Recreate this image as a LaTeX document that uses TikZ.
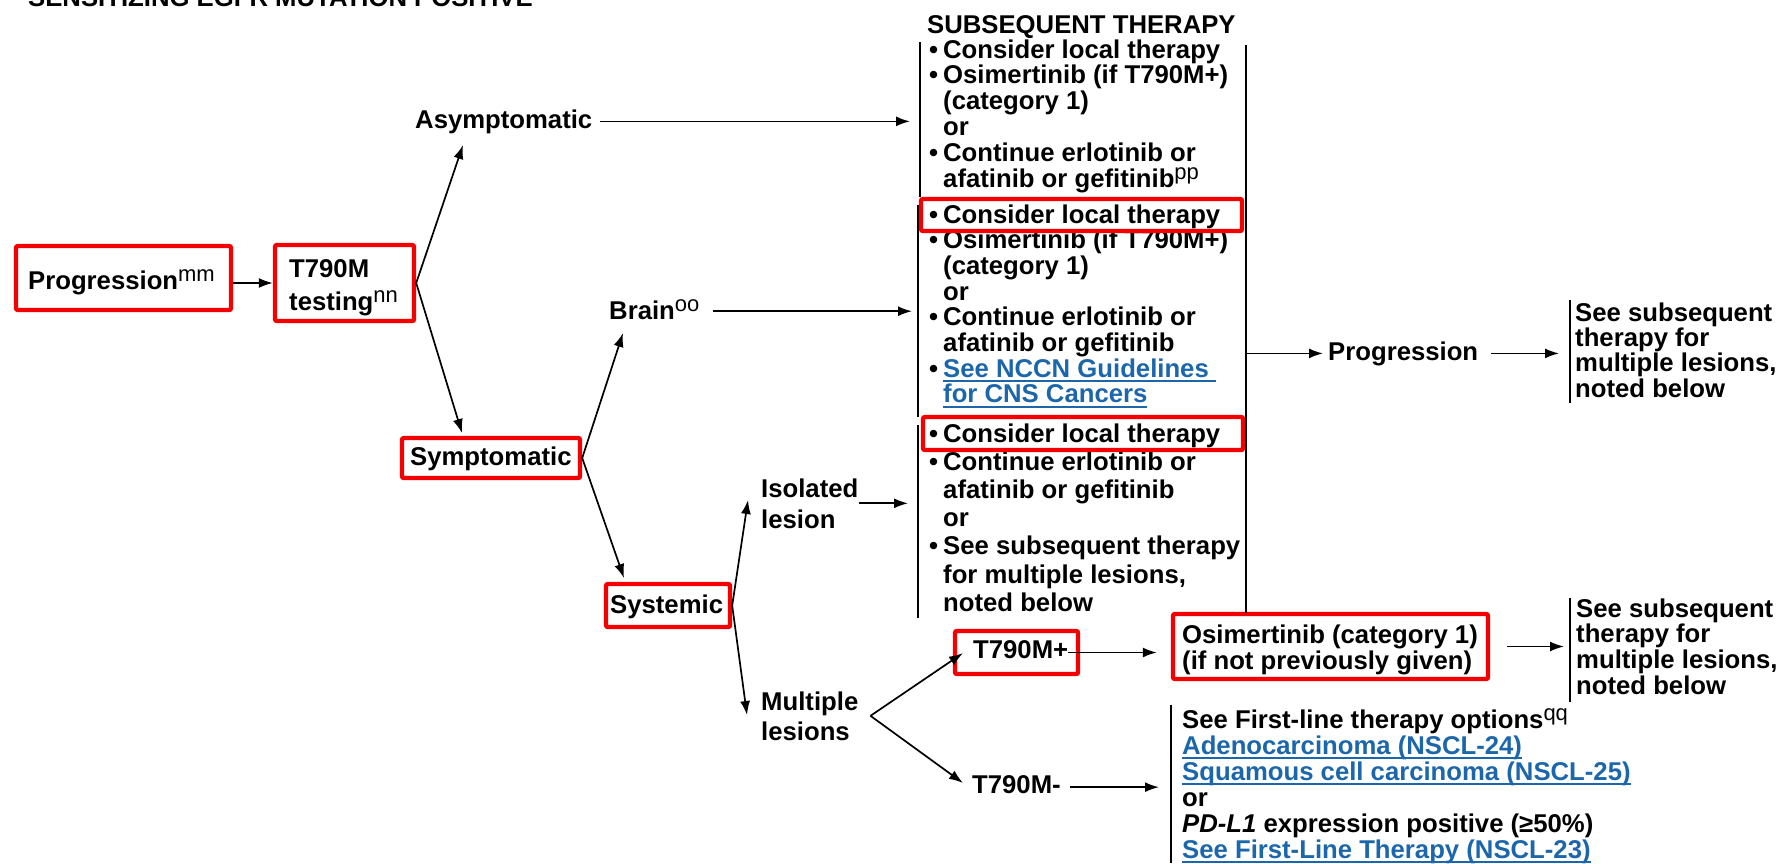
\documentclass[tikz,border=0pt]{standalone}
\usepackage{fontspec}
\setmainfont{Liberation Sans}
\usetikzlibrary{arrows.meta}

\definecolor{linkblue}{RGB}{28,102,172}
\definecolor{boxred}{RGB}{245,0,0}

% stacked lines with a fixed baseline distance; baseline = first line
\newcommand\stk[2]{\vtop{\setlength\baselineskip{#1}\setlength\lineskiplimit{-\maxdimen}\setlength\lineskip{0pt}#2}}
\newcommand\rw[1]{\hbox{#1}}
\newcommand\bul{\makebox[14pt][l]{\textbullet}}
\newcommand\indt{\hspace*{14pt}}
\newcommand\sups[1]{\raisebox{8pt}{\fontsize{22}{22}\selectfont\mdseries #1}}
\newcommand\lnk[1]{{\color{linkblue}\setbox0\hbox{#1}\rlap{\rule[-4.8pt]{\wd0}{1.8pt}}\box0}}

\begin{document}
\begin{tikzpicture}[x=1pt,y=-1pt,
  every node/.style={font=\fontsize{25.7}{25.7}\selectfont\bfseries},
  txt/.style={anchor=base west, inner sep=0pt},
  redbox/.style={draw=boxred, line width=4.4pt, rounded corners=2pt, inner sep=0pt},
  arr/.style={line width=1.7pt, -{Latex[length=14pt,width=10pt]}},
  bar/.style={line width=1.8pt}]

\useasboundingbox (0,0) rectangle (1783,863);
\clip (0,0) rectangle (1783,863);

\node[txt] (hdr) at (28,6) {SENSITIZING EGFR MUTATION POSITIVE};

% ---- decision tree on the left
\node[redbox, minimum width=215pt, minimum height=64pt] (progbox) at (123.5,278) {};
\node[txt] (progtxt) at (28,289) {Progression\sups{mm}};

\node[redbox, minimum width=139pt, minimum height=76pt] (tbox) at (344.5,283) {};
\node[txt] (ttxt) at (289,277) {\stk{33pt}{\rw{T790M}\rw{testing\sups{nn}}}};

\node[txt] (asym) at (415,128) {Asymptomatic};

\node[redbox, minimum width=178pt, minimum height=40pt] (symbox) at (491,458) {};
\node[txt] (symtxt) at (410,465) {Symptomatic};

\node[txt] (brain) at (609,319) {Brain\sups{oo}};

\node[redbox, minimum width=124pt, minimum height=43pt] (sysbox) at (668,605.5) {};
\node[txt] (systxt) at (610,613) {Systemic};

\node[txt] (iso) at (761,497) {\stk{31pt}{\rw{Isolated}\rw{lesion}}};
\node[txt] (multi) at (761,710) {\stk{30pt}{\rw{Multiple}\rw{lesions}}};

\node[redbox, minimum width=123pt, minimum height=43pt] (tpbox) at (1016.5,652.5) {};
\node[txt] (tptxt) at (973,658) {T790M+};
\node[txt] (tmtxt) at (972,793) {T790M-};

\node[redbox, minimum width=315pt, minimum height=65pt] (osbox) at (1330.5,646.5) {};
\node[txt] (ostxt) at (1182,643) {\stk{26pt}{\rw{Osimertinib (category 1)}\rw{(if not previously given)}}};

% ---- fork and branch points
\coordinate (asymtip) at (463,145);
\coordinate (symptip) at (462,433);
\coordinate (braintip) at (623,333);
\coordinate (systip) at (624,578);
\coordinate (isotip) at (748,500);
\coordinate (multip) at (747,715);
\coordinate (mfork) at ([xshift=12pt]multi.east);
\coordinate (tptip) at (963,653);
\coordinate (tmtip) at (963,783);

% ---- brackets of the therapy column
\coordinate (b1top) at (920,42);  \coordinate (b1bot) at (920,197);
\coordinate (b2top) at (918,205); \coordinate (b2bot) at (918,417);
\coordinate (b3top) at (918,425); \coordinate (b3bot) at (918,618);
\coordinate (rtop) at (1246,45);  \coordinate (rbot) at (1246,613);
\coordinate (s1top) at (1570,300); \coordinate (s1bot) at (1570,403);
\coordinate (s2top) at (1570,598); \coordinate (s2bot) at (1570,702);
\coordinate (fltop) at (1171,705); \coordinate (flbot) at (1171,863);
\coordinate (b1in) at (910,0);
\coordinate (b2in) at (912,0);
\coordinate (b3in) at (908,0);

\draw[bar] (b1top) -- (b1bot);
\draw[bar] (b2top) -- (b2bot);
\draw[bar] (b3top) -- (b3bot);
\draw[bar] (rtop) -- (rbot);
\draw[bar] (s1top) -- (s1bot);
\draw[bar] (s2top) -- (s2bot);
\draw[bar] (fltop) -- (flbot);

% ---- connectors
\draw[arr] (progbox.east |- tbox.west) -- (tbox.west);
\draw[arr] (tbox.east) -- (asymtip);
\draw[arr] (tbox.east) -- (symptip);
\draw[arr] (symbox.east) -- (braintip);
\draw[arr] (symbox.east) -- (systip);
\draw[arr] (sysbox.east) -- (isotip);
\draw[arr] (sysbox.east) -- (multip);
\draw[arr] (mfork) -- (tptip);
\draw[arr] (mfork) -- (tmtip);

\draw[arr, shorten <=8pt] (asym.east) -- (asym.east -| b1in);
\draw[arr, shorten <=13pt] ([yshift=-2pt]brain.east) -- ([yshift=-2pt]brain.east -| b2in);
\draw[arr] (iso.east) -- (iso.east -| b3in);

\node[txt] (prog2) at (1328,360) {Progression};
\draw[arr, shorten >=5pt] (prog2.west -| rtop) -- (prog2.west);
\draw[arr, shorten <=13pt, shorten >=11pt] (prog2.east) -- (prog2.east -| s1top);

\draw[arr, shorten >=14pt] (tptxt.east |- tpbox.east) -- (tpbox.east -| osbox.west);
\draw[arr, shorten <=17pt, shorten >=6pt] (osbox.east) -- (osbox.east -| s2top);
\draw[arr, shorten <=9pt, shorten >=12pt] ([yshift=-3pt]tmtxt.east) -- ([yshift=-3pt]tmtxt.east -| fltop);

% ---- therapy column
\node[txt] (subhdr) at (927,33) {SUBSEQUENT THERAPY};

\node[txt] (th1) at (929,58) {\stk{25.8pt}{%
  \rw{\bul Consider local therapy}%
  \rw{\bul Osimertinib (if T790M+)}%
  \rw{\indt(category 1)}%
  \rw{\indt or}%
  \rw{\bul Continue erlotinib or}%
  \rw{\indt afatinib or gefitinib\sups{pp}}}};

\node[txt] (th2) at (929,223) {\stk{25.7pt}{%
  \rw{\bul Consider local therapy}%
  \rw{\bul Osimertinib (if T790M+)}%
  \rw{\indt(category 1)}%
  \rw{\indt or}%
  \rw{\bul Continue erlotinib or}%
  \rw{\indt afatinib or gefitinib}%
  \rw{\bul\lnk{See NCCN Guidelines }}%
  \rw{\indt\lnk{for CNS Cancers}}}};

\node[txt] (th3) at (929,442) {\stk{28.2pt}{%
  \rw{\bul Consider local therapy}%
  \rw{\bul Continue erlotinib or}%
  \rw{\indt afatinib or gefitinib}%
  \rw{\indt or}%
  \rw{\bul See subsequent therapy}%
  \rw{\indt for multiple lesions,}%
  \rw{\indt noted below}}};

\node[redbox, minimum width=321pt, minimum height=32pt] (cl2box) at (1081.5,215) {};
\node[redbox, minimum width=320pt, minimum height=33pt] (cl3box) at (1083,433.5) {};

% ---- right-hand notes
\node[txt] (see1) at (1575,321) {\stk{25.4pt}{%
  \rw{See subsequent}\rw{therapy for}\rw{multiple lesions,}\rw{noted below}}};
\node[txt] (see2) at (1576,617) {\stk{25.7pt}{%
  \rw{See subsequent}\rw{therapy for}\rw{multiple lesions,}\rw{noted below}}};

\node[txt] (fl) at (1182,728) {\stk{26pt}{%
  \rw{See First-line therapy options\sups{qq}}%
  \rw{\lnk{Adenocarcinoma (NSCL-24)}}%
  \rw{\lnk{Squamous cell carcinoma (NSCL-25)}}%
  \rw{or}%
  \rw{\textit{PD-L1} expression positive (≥50\%)}%
  \rw{\lnk{See First-Line Therapy (NSCL-23)}}}};

\end{tikzpicture}
\end{document}
